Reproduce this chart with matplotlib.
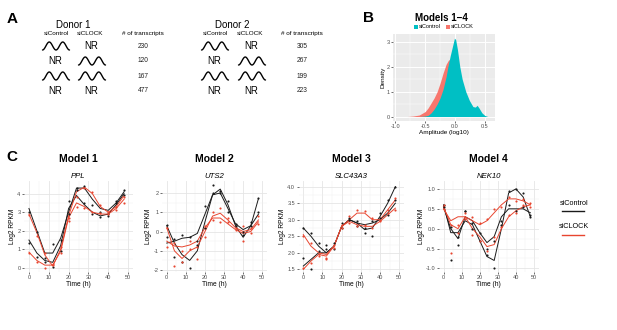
import numpy as np
import matplotlib
matplotlib.use('Agg')
import matplotlib.pyplot as plt

plt.rcParams['font.family'] = ['Liberation Sans', 'DejaVu Sans']

W, H = 617, 330

# ---------------- Panel A data ----------------
donors = ['Donor 1', 'Donor 2']
# rhythmic status per row: (siControl, siCLOCK); 'R' = rhythmic (wave), 'NR' = not rhythmic
row_status = [('R', 'NR'), ('NR', 'R'), ('R', 'R'), ('NR', 'NR')]
counts_d1 = [230, 120, 167, 477]
counts_d2 = [305, 267, 199, 223]

# ---------------- Panel B data (density curves) ----------------
clock_x = [-0.8, -0.7, -0.6, -0.5, -0.45, -0.4, -0.35, -0.3, -0.25, -0.2, -0.15, -0.11,
           -0.08, -0.04, 0.0, 0.05, 0.1, 0.2, 0.3, 0.4, 0.5]
clock_y = [0.0, 0.02, 0.06, 0.2, 0.35, 0.55, 0.75, 1.0, 1.35, 1.75, 2.1, 2.27,
           2.3, 2.25, 2.1, 1.6, 1.1, 0.5, 0.25, 0.15, 0.02]
ctrl_x = [-0.6, -0.5, -0.45, -0.4, -0.35, -0.3, -0.25, -0.2, -0.15, -0.12, -0.08, -0.04,
          -0.01, 0.01, 0.04, 0.08, 0.12, 0.18, 0.24, 0.3, 0.34, 0.37, 0.4, 0.45, 0.5, 0.55]
ctrl_y = [0.0, 0.02, 0.05, 0.15, 0.3, 0.5, 0.75, 1.1, 1.6, 2.0, 2.45, 2.85,
          3.15, 3.1, 2.7, 2.0, 1.5, 1.0, 0.65, 0.4, 0.38, 0.45, 0.35, 0.15, 0.04, 0.0]

# ---------------- Panel C data ----------------
times = [0, 4, 8, 12, 16, 20, 24, 28, 32, 36, 40, 44, 48]

models = ['Model 1', 'Model 2', 'Model 3', 'Model 4']
genes = ['PPL', 'UTS2', 'SLC43A3', 'NEK10']

# PPL
ppl_ctrl_fit = [[3.2, 2.0, 0.8, 0.8, 1.6, 3.0, 4.3, 4.3, 3.7, 3.2, 3.1, 3.5, 4.1],
                [1.5, 0.8, 0.4, 0.3, 1.2, 3.2, 3.9, 3.4, 3.0, 2.8, 2.9, 3.4, 4.0]]
ppl_ctrl_pts = [[3.0, 1.95, 0.55, 1.3, 1.5, 3.6, 4.3, 4.4, 3.4, 3.0, 2.9, 3.6, 4.2],
                [1.35, 0.6, 0.3, 0.05, 0.9, 2.9, 4.2, 3.5, 2.9, 2.75, 2.8, 3.5, 3.9]]
ppl_clock_fit = [[2.9, 1.9, 0.7, 0.1, 1.0, 2.8, 4.1, 4.35, 4.0, 3.3, 3.0, 3.3, 3.9],
                 [0.85, 0.4, 0.15, 0.15, 0.9, 2.7, 3.5, 3.3, 3.0, 2.9, 2.9, 3.2, 3.7]]
ppl_clock_pts = [[2.85, 1.7, 0.8, 0.15, 0.8, 2.7, 3.8, 4.3, 4.1, 3.4, 3.0, 3.3, 3.8],
                 [0.8, 0.3, 0.0, 0.2, 1.1, 2.5, 3.3, 3.2, 3.0, 2.95, 2.9, 3.1, 3.5]]

# UTS2
uts2_ctrl_fit = [[0.3, -0.6, -1.2, -1.5, -1.0, 0.5, 1.9, 2.2, 1.4, 0.3, -0.3, 0.3, 1.7],
                 [-0.6, -0.5, -0.35, -0.3, -0.1, 0.9, 1.9, 2.0, 1.2, 0.4, 0.1, 0.3, 0.9]]
uts2_ctrl_pts = [[0.35, -1.3, -1.6, -1.9, -0.7, 0.2, 2.4, 2.0, 1.6, 0.4, -0.2, 0.5, 1.75],
                 [-0.3, -0.4, -0.2, -0.3, -0.5, 1.3, 2.0, 2.1, 1.0, 0.3, 0.0, 0.3, 1.0]]
uts2_clock_fit = [[0.2, -1.0, -1.4, -1.0, -0.8, 0.0, 0.8, 0.95, 0.6, 0.2, 0.0, 0.1, 0.6],
                  [-0.5, -0.75, -0.8, -0.7, -0.5, 0.2, 0.7, 0.7, 0.4, 0.1, -0.1, 0.0, 0.5]]
uts2_clock_pts = [[0.2, -1.8, -1.6, -0.9, -1.4, -0.3, 0.6, 1.2, 0.7, 0.1, -0.5, 0.2, 0.8],
                  [-0.8, -0.6, -1.0, -0.5, -0.8, 0.3, 1.0, 0.5, 0.5, 0.2, 0.3, -0.1, 0.4]]

# SLC43A3
slc_ctrl_fit = [[2.75, 2.5, 2.2, 2.0, 2.2, 2.8, 3.0, 2.9, 2.7, 2.75, 3.1, 3.5, 4.0],
                [1.6, 1.8, 2.0, 2.0, 2.2, 2.8, 3.0, 2.9, 2.85, 2.9, 3.0, 3.2, 3.5]]
slc_ctrl_pts = [[2.75, 2.6, 2.3, 2.25, 2.1, 2.9, 3.0, 2.95, 2.6, 2.5, 3.2, 3.6, 4.0],
                [1.85, 1.5, 2.05, 2.1, 2.3, 2.75, 3.05, 2.8, 2.75, 2.95, 3.05, 3.15, 3.6]]
slc_clock_fit = [[2.55, 2.2, 2.0, 1.95, 2.2, 2.8, 3.0, 3.2, 3.2, 3.0, 3.0, 3.3, 3.6],
                 [1.5, 1.75, 1.95, 1.9, 2.2, 2.8, 2.95, 2.85, 2.8, 2.8, 2.95, 3.15, 3.35]]
slc_clock_pts = [[2.5, 2.3, 1.95, 1.85, 2.25, 2.75, 3.1, 3.3, 3.25, 3.05, 2.95, 3.3, 3.65],
                 [1.55, 1.7, 1.9, 1.8, 2.15, 2.85, 2.9, 2.8, 2.85, 2.75, 3.0, 3.2, 3.3]]

# NEK10
nek_ctrl_fit = [[0.6, -0.1, -0.1, 0.2, 0.1, -0.3, -0.7, -0.8, 0.0, 0.9, 1.0, 0.8, 0.3],
                [0.55, 0.0, -0.25, 0.3, 0.2, -0.1, -0.35, -0.2, 0.3, 0.5, 0.5, 0.5, 0.4]]
nek_ctrl_pts = [[0.6, -0.8, -0.2, 0.45, 0.0, -0.3, -0.65, -1.0, 0.1, 0.95, 1.0, 0.9, 0.35],
                [0.55, 0.05, -0.4, 0.45, 0.15, -0.1, -0.5, -0.3, 0.2, 0.6, 0.45, 0.55, 0.3]]
nek_clock_fit = [[0.55, 0.1, 0.0, 0.3, 0.2, 0.1, 0.2, 0.4, 0.6, 0.75, 0.75, 0.7, 0.6],
                 [0.5, 0.2, 0.3, 0.3, 0.0, -0.2, -0.45, -0.4, 0.0, 0.3, 0.45, 0.55, 0.6]]
nek_clock_pts = [[0.6, 0.1, -0.1, 0.4, 0.3, 0.15, 0.25, 0.5, 0.55, 0.8, 0.7, 0.75, 0.55],
                 [0.5, -0.6, 0.1, 0.25, -0.15, -0.3, -0.55, -0.2, 0.05, 0.35, 0.4, 0.6, 0.65]]

panel_series = [
    (ppl_ctrl_fit, ppl_ctrl_pts, ppl_clock_fit, ppl_clock_pts),
    (uts2_ctrl_fit, uts2_ctrl_pts, uts2_clock_fit, uts2_clock_pts),
    (slc_ctrl_fit, slc_ctrl_pts, slc_clock_fit, slc_clock_pts),
    (nek_ctrl_fit, nek_ctrl_pts, nek_clock_fit, nek_clock_pts),
]
y_limits = [(-0.22, 4.68), (-2.1, 2.62), (1.42, 4.17), (-1.09, 1.2)]
y_ticks = [[0, 1, 2, 3, 4], [-2, -1, 0, 1, 2],
           [1.5, 2.0, 2.5, 3.0, 3.5, 4.0], [-1.0, -0.5, 0.0, 0.5, 1.0]]
y_ticklabels = [['0', '1', '2', '3', '4'], ['-2', '-1', '0', '1', '2'],
                ['1.5', '2.0', '2.5', '3.0', '3.5', '4.0'],
                ['-1.0', '-0.5', '0.0', '0.5', '1.0']]
# pixel extents (left, right) of the four plot areas
x_extents = [(24, 133), (162, 267), (298.5, 404), (439, 538.5)]

CTRL_COL = '#1a1a1a'
CLOCK_COL = '#E8452F'
TEAL = '#00BFC4'
SALMON = '#F8766D'


def px_rect(l, t, r, b):
    return [l / W, 1 - b / H, (r - l) / W, (b - t) / H]


fig = plt.figure(figsize=(W / 100, H / 100), dpi=100)

# overlay axes in pixel coordinates for panel A and free labels
ov = fig.add_axes([0, 0, 1, 1])
ov.set_xlim(0, W)
ov.set_ylim(H, 0)
ov.axis('off')


def wave(cx, cy, w=27, h=8):
    u = np.linspace(0, 1, 60)
    xs = cx - w / 2 + w * u
    ys = cy + h / 2 - h * (1 - np.cos(4 * np.pi * u)) / 2
    ov.plot(xs, ys, color='black', lw=1.0, solid_capstyle='round')


# ============================================================
# Panel A
# ============================================================
ov.text(12, 19, 'A', fontsize=11, fontweight='bold', ha='center', va='center')
row_y = [46, 61, 76, 91]
layouts = [(73, 56, 92, 143, counts_d1), (232, 215, 252, 302, counts_d2)]
for name, (dx, c1, c2, cn, counts) in zip(donors, layouts):
    ov.text(dx, 24.5, name, fontsize=7, ha='center', va='center')
    ov.text(c1, 33.5, 'siControl', fontsize=4.6, ha='center', va='center')
    ov.text(c2 - 2, 33.5, 'siCLOCK', fontsize=4.6, ha='center', va='center')
    ov.text(cn, 33.5, '# of transcripts', fontsize=4.6, ha='center', va='center')
    for y, (s1, s2), n in zip(row_y, row_status, counts):
        for cx, s in ((c1, s1), (c2, s2)):
            if s == 'R':
                wave(cx, y)
            else:
                ov.text(cx - 1, y, 'NR', fontsize=7, ha='center', va='center')
        ov.text(cn, y, str(n), fontsize=4.8, ha='center', va='center', color='#222222')

# ============================================================
# Panel B
# ============================================================
ov.text(368, 18, 'B', fontsize=11, fontweight='bold', ha='center', va='center')
ov.text(441, 18, 'Models 1\u22124', fontsize=7, fontweight='bold', ha='center', va='center')
ov.add_patch(plt.Rectangle((414, 24.5), 4, 4, color=TEAL, lw=0))
ov.text(419, 26.7, 'siControl', fontsize=4, ha='left', va='center')
ov.add_patch(plt.Rectangle((446, 24.5), 4, 4, color=SALMON, lw=0))
ov.text(451, 26.7, 'siCLOCK', fontsize=4, ha='left', va='center')

axb = fig.add_axes(px_rect(393, 33.5, 495, 120.5))
axb.set_facecolor('#EBEBEB')
axb.fill_between(clock_x, clock_y, 0, color=SALMON, lw=0, zorder=2)
axb.fill_between(ctrl_x, ctrl_y, 0, color=TEAL, lw=0, zorder=3)
axb.set_xlim(-1.04, 0.67)
axb.set_ylim(-0.16, 3.34)
axb.set_xticks([-1.0, -0.5, 0.0, 0.5])
axb.set_xticklabels(['-1.0', '-0.5', '0.0', '0.5'])
axb.set_yticks([0, 1, 2, 3])
axb.set_xticks([-0.75, -0.25, 0.25], minor=True)
axb.set_yticks([0.5, 1.5, 2.5], minor=True)
axb.grid(True, which='major', color='white', lw=0.7, zorder=0)
axb.grid(True, which='minor', color='white', lw=0.35, zorder=0)
axb.set_axisbelow(True)
for sp in axb.spines.values():
    sp.set_visible(False)
axb.tick_params(which='major', labelsize=4, length=1.5, width=0.5, pad=1,
                colors='#333333', labelcolor='#4D4D4D')
axb.tick_params(which='minor', length=0)
axb.set_xlabel('Amplitude (log10)', fontsize=4.6, labelpad=0.5)
axb.set_ylabel('Density', fontsize=4.6, labelpad=1)

# ============================================================
# Panel C
# ============================================================
ov.text(12, 157, 'C', fontsize=11, fontweight='bold', ha='center', va='center')
for i in range(4):
    l, r = x_extents[i]
    ax = fig.add_axes(px_rect(l, 181, r, 272))
    ctrl_fit, ctrl_pts, clock_fit, clock_pts = panel_series[i]
    for fit, pts in zip(ctrl_fit, ctrl_pts):
        ax.plot(times, fit, color=CTRL_COL, lw=0.7, zorder=3)
        ax.scatter(times, pts, s=2.4, color=CTRL_COL, lw=0, zorder=4)
    for fit, pts in zip(clock_fit, clock_pts):
        ax.plot(times, fit, color=CLOCK_COL, lw=0.7, zorder=3)
        ax.scatter(times, pts, s=2.4, color=CLOCK_COL, lw=0, zorder=4)
    ax.set_xlim(-2.5, 52.5)
    ax.set_ylim(*y_limits[i])
    ax.set_xticks([0, 10, 20, 30, 40, 50])
    ax.set_xticks([5, 15, 25, 35, 45], minor=True)
    ax.set_yticks(y_ticks[i])
    ax.set_yticklabels(y_ticklabels[i])
    yt = y_ticks[i]
    step = yt[1] - yt[0]
    ax.set_yticks([v + step / 2 for v in yt[:-1]], minor=True)
    ax.grid(True, which='major', color='#E5E5E5', lw=0.6, zorder=0)
    ax.grid(True, which='minor', color='#F0F0F0', lw=0.35, zorder=0)
    ax.set_axisbelow(True)
    for sp in ax.spines.values():
        sp.set_visible(False)
    ax.tick_params(which='major', labelsize=4, length=1.5, width=0.5, pad=1,
                   colors='#333333', labelcolor='#4D4D4D')
    ax.tick_params(which='minor', length=0)
    ax.set_xlabel('Time (h)', fontsize=4.8, labelpad=0.5)
    ax.set_ylabel('Log2 RPKM', fontsize=4.8, labelpad=1)
    ax.set_title(genes[i], fontsize=5.6, style='italic', pad=2)
    ov.text((l + r) / 2, 159, models[i], fontsize=7.5, fontweight='bold',
            ha='center', va='center')

# legend for panel C
ov.text(574, 203.5, 'siControl', fontsize=5.2, ha='center', va='center')
ov.plot([562, 584], [211, 211], color=CTRL_COL, lw=1.0)
ov.text(574, 227, 'siCLOCK', fontsize=5.2, ha='center', va='center')
ov.plot([562, 584], [234.5, 234.5], color=CLOCK_COL, lw=1.0)

fig.savefig('out.png', dpi=100)
